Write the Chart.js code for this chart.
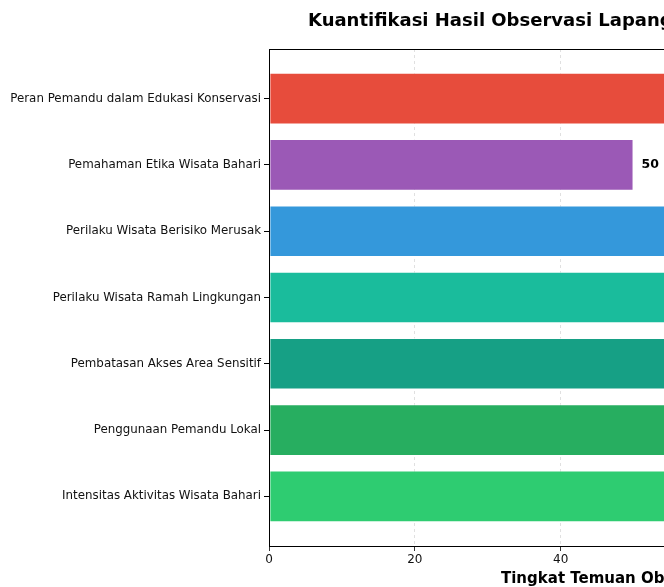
<!DOCTYPE html>
<html>
<head>
<meta charset="utf-8">
<script src="https://cdn.jsdelivr.net/npm/chart.js@4.4.1/dist/chart.umd.min.js"></script>
<style>
  html, body { margin: 0; padding: 0; background: #fff; overflow: hidden; width: 664px; height: 587px; }
  #wrap { width: 1100px; height: 587px; position: relative; }
</style>
</head>
<body>
<div id="wrap"><canvas id="chart" width="1100" height="587"></canvas></div>
<script>
// Data (bars beyond 54 are cut off in the reference, so those values are estimates)
const categories = [
    "Peran Pemandu dalam Edukasi Konservasi",
    "Pemahaman Etika Wisata Bahari",
    "Perilaku Wisata Berisiko Merusak",
    "Perilaku Wisata Ramah Lingkungan",
    "Pembatasan Akses Area Sensitif",
    "Penggunaan Pemandu Lokal",
    "Intensitas Aktivitas Wisata Bahari"
];
const values = [90, 50, 80, 85, 75, 95, 70];
const barColors = ["#e74c3c", "#9b59b6", "#3498db", "#1abc9c", "#16a085", "#27ae60", "#2ecc71"];
const xTicks = [0, 20, 40, 60, 80, 100];

const chartTitle = "Kuantifikasi Hasil Observasi Lapangan";
const xLabel = "Tingkat Temuan Observasi (%)";

// title, axis label, frame and value labels
const decorations = {
    id: "decorations",
    afterDatasetsDraw(chart) {
        const ctx = chart.ctx;
        const area = chart.chartArea;
        ctx.save();

        // frame
        ctx.strokeStyle = "#000";
        ctx.lineWidth = 1;
        ctx.strokeRect(area.left + 0.5, area.top + 0.5, area.right - area.left - 1, area.bottom - area.top);

        // value labels
        ctx.fillStyle = "#000";
        ctx.font = "bold 12.5px 'DejaVu Sans'";
        ctx.textBaseline = "middle";
        ctx.textAlign = "left";
        chart.getDatasetMeta(0).data.forEach((bar, i) => {
            ctx.fillText(String(values[i]), bar.x + 8, bar.y);
        });

        // title
        ctx.font = "bold 18px 'DejaVu Sans'";
        ctx.textBaseline = "alphabetic";
        ctx.fillText(chartTitle, 308, 26);

        // x axis label
        ctx.font = "bold 15px 'DejaVu Sans'";
        ctx.fillText(xLabel, 501, 583);
        ctx.restore();
    }
};

new Chart(document.getElementById("chart"), {
    type: "bar",
    data: {
        datasets: [{
            data: values.map((v, i) => ({ x: v, y: i })),
            backgroundColor: barColors,
            borderColor: "rgba(255,255,255,0.6)",
            borderWidth: 1,
            borderSkipped: false,
            barPercentage: 0.78,
            categoryPercentage: 1
        }]
    },
    options: {
        indexAxis: "y",
        responsive: false,
        animation: false,
        layout: { padding: { top: 49, right: 29, left: 0, bottom: 0 } },
        plugins: {
            legend: { display: false },
            tooltip: { enabled: false }
        },
        scales: {
            x: {
                type: "linear",
                min: 0,
                max: 110,
                afterBuildTicks: scale => { scale.ticks = xTicks.map(v => ({ value: v })); },
                afterFit: scale => { scale.height = 41; },
                ticks: {
                    color: "#111",
                    font: { family: "DejaVu Sans", size: 12 },
                    padding: 2,
                    maxRotation: 0
                },
                grid: {
                    color: "#d9d9d9",
                    lineWidth: 0.8,
                    tickColor: "#000",
                    tickLength: 5
                },
                border: { display: false, dash: [3, 3] }
            },
            y: {
                type: "linear",
                reverse: true,
                offset: false,
                min: -0.75,
                max: 6.75,
                afterBuildTicks: scale => { scale.ticks = categories.map((c, i) => ({ value: i })); },
                afterFit: scale => { scale.width = 269; },
                ticks: {
                    color: "#111",
                    font: { family: "DejaVu Sans", size: 11.85 },
                    padding: 3,
                    callback: v => categories[v]
                },
                grid: {
                    offset: false,
                    drawOnChartArea: false,
                    color: "#000",
                    tickLength: 5
                },
                border: { display: false }
            }
        }
    },
    plugins: [decorations]
});
</script>
</body>
</html>
